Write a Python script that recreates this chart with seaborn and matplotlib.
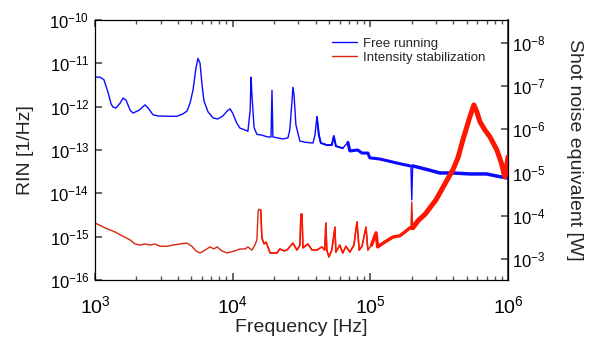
import numpy as np
import pandas as pd
import matplotlib
matplotlib.use("Agg")
import matplotlib.pyplot as plt
import matplotlib.ticker as mticker
import seaborn as sns

# ---------------- data ----------------
free_freq = [1.0e3, 1.087e3, 1.16e3, 1.24e3, 1.31e3, 1.35e3, 1.42e3, 1.52e3, 1.60e3, 1.68e3,
             1.80e3, 1.89e3, 2.09e3, 2.31e3, 2.43e3, 2.64e3, 2.87e3, 3.5e3, 3.94e3, 4.35e3,
             4.66e3, 4.9e3, 5.15e3, 5.41e3, 5.6e3, 5.79e3, 5.99e3, 6.19e3, 6.62e3, 7.2e3,
             7.8e3, 8.5e3, 9.1e3, 9.56e3, 1.0e4, 1.07e4, 1.13e4, 1.23e4, 1.29e4, 1.34e4,
             1.36e4, 1.38e4, 1.43e4, 1.5e4, 1.63e4, 1.8e4, 1.9e4, 1.93e4, 1.96e4, 2.13e4,
             2.32e4, 2.52e4, 2.6e4, 2.7e4, 2.74e4, 2.79e4, 2.88e4, 3.08e4, 3.41e4, 3.83e4,
             3.96e4, 4.09e4, 4.23e4, 4.37e4, 4.83e4, 5.25e4, 5.43e4, 5.62e4, 6.3e4, 6.87e4,
             7.1e4, 8.1e4, 8.7e4, 9.6e4, 9.9e4, 1.17e5, 1.56e5, 1.94e5, 1.97e5, 2.0e5,
             2.03e5, 2.62e5, 3.2e5, 3.98e5, 5.3e5, 7.0e5, 8.3e5, 1.0e6]
free_rin = [4.8e-12, 4.8e-12, 4.2e-12, 2.2e-12, 1.15e-12, 9.8e-13, 9.3e-13, 1.2e-12, 1.58e-12, 1.42e-12,
            8.3e-13, 7.1e-13, 8.3e-13, 1.1e-12, 9.3e-13, 6.5e-13, 6.1e-13, 6.0e-13, 6.0e-13, 6.8e-13,
            7.9e-13, 1.2e-12, 2.4e-12, 7.8e-12, 1.3e-11, 1.02e-11, 3.2e-12, 1.35e-12, 7.6e-13, 5.5e-13,
            5.2e-13, 6.1e-13, 7.9e-13, 8.9e-13, 7.1e-13, 4.2e-13, 3.2e-13, 2.9e-13, 2.7e-13, 8.3e-13,
            4.8e-12, 1.9e-12, 3.3e-13, 2.3e-13, 2.2e-13, 2.0e-13, 2.0e-13, 2.4e-12, 2.0e-13, 1.9e-13,
            1.8e-13, 1.9e-13, 2.9e-13, 1.4e-12, 2.8e-12, 1.9e-12, 3.8e-13, 1.6e-13, 1.5e-13, 1.45e-13,
            2.2e-13, 5.8e-13, 2.2e-13, 1.45e-13, 1.3e-13, 1.3e-13, 2.1e-13, 1.23e-13, 1.1e-13, 1.5e-13,
            9.5e-14, 1.0e-13, 8.5e-14, 8.5e-14, 6.6e-14, 6.2e-14, 5.0e-14, 4.3e-14, 4.3e-14, 7.1e-15,
            4.3e-14, 3.5e-14, 2.95e-14, 2.95e-14, 2.8e-14, 2.8e-14, 2.5e-14, 2.25e-14]

stab_freq = [1.0e3, 1.18e3, 1.4e3, 1.57e3, 1.8e3, 1.95e3, 2.12e3, 2.31e3, 2.51e3, 2.73e3,
             2.97e3, 3.33e3, 3.68e3, 4.14e3, 4.66e3, 5.06e3, 5.41e3, 5.79e3, 6.3e3, 6.85e3,
             7.3e3, 7.7e3, 8.36e3, 9.1e3, 9.56e3, 1.04e4, 1.13e4, 1.23e4, 1.29e4, 1.38e4,
             1.45e4, 1.5e4, 1.53e4, 1.55e4, 1.6e4, 1.63e4, 1.69e4, 1.75e4, 1.87e4, 2.1e4,
             2.2e4, 2.36e4, 2.48e4, 2.74e4, 2.93e4, 3.08e4, 3.13e4, 3.19e4, 3.24e4, 3.52e4,
             3.77e4, 4.09e4, 4.45e4, 4.67e4, 4.75e4, 4.83e4, 5.0e4, 5.25e4, 5.53e4, 5.62e4,
             6.0e4, 6.3e4, 6.65e4, 7.1e4, 7.6e4, 8.0e4, 8.3e4, 8.7e4, 9.3e4, 9.6e4,
             1.02e5, 1.1e5, 1.13e5, 1.28e5, 1.46e5, 1.64e5, 1.78e5, 1.94e5, 1.97e5, 2.0e5,
             2.03e5, 2.24e5, 2.5e5, 3.0e5, 3.6e5, 3.98e5, 4.33e5, 4.7e5, 5.28e5, 5.65e5,
             5.94e5, 6.25e5, 6.79e5, 7.4e5, 8.3e5, 8.9e5, 9.5e5, 1.0e6]
stab_rin = [2.07e-15, 1.6e-15, 1.28e-15, 1.05e-15, 8.4e-16, 6.8e-16, 6.4e-16, 6.8e-16, 6.4e-16, 6.8e-16,
            6.0e-16, 6.0e-16, 6.4e-16, 6.8e-16, 7.1e-16, 6.0e-16, 4.7e-16, 4.2e-16, 4.9e-16, 5.8e-16,
            5.2e-16, 5.8e-16, 4.7e-16, 4.2e-16, 4.4e-16, 4.7e-16, 5.2e-16, 5.2e-16, 5.8e-16, 4.9e-16,
            6.4e-16, 8.4e-16, 3.7e-15, 4.3e-15, 4.1e-15, 9.4e-16, 6.8e-16, 7.5e-16, 4.2e-16, 4.2e-16,
            5.2e-16, 4.7e-16, 4.9e-16, 7.1e-16, 4.9e-16, 6.4e-16, 3.3e-15, 3.3e-15, 5.5e-16, 6.8e-16,
            4.9e-16, 4.9e-16, 5.8e-16, 4.9e-16, 2.07e-15, 4.9e-16, 3.4e-16, 4.9e-16, 1.66e-15, 4.4e-16,
            6.4e-16, 4.2e-16, 6.0e-16, 4.4e-16, 6.4e-16, 2.2e-15, 4.9e-16, 6.0e-16, 1.66e-15, 4.9e-16,
            6.4e-16, 1.23e-15, 5.8e-16, 7.6e-16, 9.8e-16, 1.05e-15, 1.28e-15, 1.6e-15, 1.5e-15, 6.3e-15,
            1.6e-15, 2.4e-15, 3.3e-15, 7.1e-15, 2.0e-14, 3.5e-14, 6.6e-14, 1.7e-13, 5.8e-13, 1.1e-12,
            7.6e-13, 4.5e-13, 2.9e-13, 2.0e-13, 1.0e-13, 5.3e-14, 2.4e-14, 6.9e-14]

series_names = ["Free running", "Intensity stabilization"]
x_ticks = [1e3, 1e4, 1e5, 1e6]
shot_noise_const = 3.0e-19   # 2*h*nu  (W/Hz) used for the right-hand axis

# ---------------- plot ----------------
sns.set_theme(style="ticks")
plt.rcParams["font.family"] = ["Liberation Sans", "DejaVu Sans"]
plt.rcParams["mathtext.fontset"] = "custom"
plt.rcParams["mathtext.rm"] = "Liberation Sans"
plt.rcParams["mathtext.it"] = "Liberation Sans:italic"
plt.rcParams["mathtext.default"] = "regular"

fig = plt.figure(figsize=(5.94, 3.44), dpi=100)
ax = fig.add_axes([95/594, 1-280/344, (508-95)/594, (280-20)/344])

free = pd.DataFrame({"f": free_freq, "rin": free_rin})
stab = pd.DataFrame({"f": stab_freq, "rin": stab_rin})
blue = "#0a0aff"
red = "#ff1500"
red_dark = "#d8280c"

sns.lineplot(data=free, x="f", y="rin", ax=ax, color=blue, lw=1.0,
             estimator=None, sort=False, label=series_names[0])
# thicker noisy band at high frequency (excluding the narrow spike)
for lo, hi, w in [(4.0e4, 6.8e4, 1.4), (6.8e4, 1.95e5, 2.2), (2.02e5, 1.0e6, 2.5)]:
    seg = free[(free.f >= lo) & (free.f <= hi)]
    sns.lineplot(data=seg, x="f", y="rin", ax=ax, color=blue, lw=w,
                 estimator=None, sort=False, legend=False)

sns.lineplot(data=stab, x="f", y="rin", ax=ax, color=red_dark, lw=1.0,
             estimator=None, sort=False, label=series_names[1])
for lo, hi, w in [(1.6e4, 1.0e5, 1.1), (1.0e5, 1.95e5, 2.4), (2.02e5, 1.0e6, 3.6)]:
    seg = stab[(stab.f >= lo) & (stab.f <= hi)]
    sns.lineplot(data=seg, x="f", y="rin", ax=ax, color=red, lw=w,
                 estimator=None, sort=False, legend=False)

ax.set_xscale("log")
ax.set_yscale("log")
ax.set_xlim(1e3, 1e6)
ax.set_ylim(1e-16, 1e-10)
ax.set_xticks(x_ticks)
ax.xaxis.set_minor_formatter(mticker.NullFormatter())
ax.yaxis.set_minor_formatter(mticker.NullFormatter())

ax.set_xlabel("Frequency [Hz]", fontsize=14, labelpad=1)
ax.set_ylabel("RIN [1/Hz]", fontsize=14, labelpad=11)

ax.tick_params(axis="x", which="both", direction="in", top=True, bottom=True,
               colors="#555555", labelcolor="black", labelsize=14, pad=11)
ax.tick_params(axis="x", which="major", length=5)
ax.tick_params(axis="x", which="minor", length=3)
ax.tick_params(axis="y", which="major", direction="in", left=True, right=False,
               length=5, colors="#555555", labelcolor="black", labelsize=12, pad=4)
ax.tick_params(axis="y", which="minor", left=False, right=False)

for s in ax.spines.values():
    s.set_color("black")
    s.set_linewidth(0.9)

secax = ax.secondary_yaxis("right",
                           functions=(lambda r: shot_noise_const / r,
                                      lambda p: shot_noise_const / p))
secax.tick_params(axis="y", which="major", direction="in", length=5,
                  colors="#555555", labelcolor="black", labelsize=12, pad=3)
secax.tick_params(axis="y", which="minor", length=0)
secax.yaxis.set_minor_formatter(mticker.NullFormatter())
secax.spines["right"].set_color("#333333")
secax.set_ylabel("Shot noise equivalent [W]", fontsize=14, rotation=270, labelpad=27)

leg = ax.legend(loc="upper left", bbox_to_anchor=((332-95)/413, 0.932), frameon=False,
                fontsize=9.5, handlelength=1.9, handletextpad=0.45, labelspacing=0.12,
                borderaxespad=0.0, borderpad=0.0)
for h in leg.get_lines():
    h.set_linewidth(1.0)

fig.savefig("out.png", dpi=100)
